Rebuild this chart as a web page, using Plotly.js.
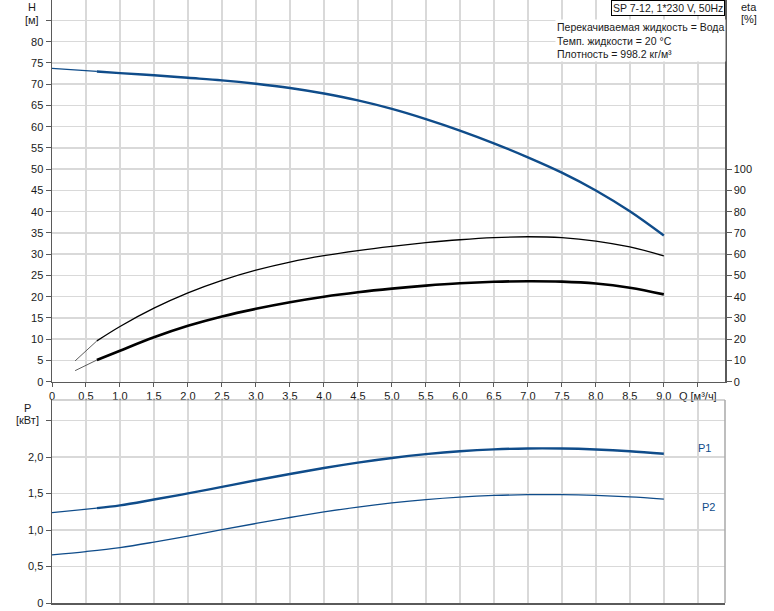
<!DOCTYPE html>
<html>
<head>
<meta charset="utf-8">
<script src="https://cdn.plot.ly/plotly-3.0.1.min.js"></script>
<style>html,body{margin:0;padding:0;background:#fff}#chart{width:774px;height:611px}</style>
</head>
<body>
<div id="chart"></div>
<script>
// ---- data ----
const qH      = [0, 0.66, 1, 1.5, 2, 2.5, 3, 3.5, 4, 4.5, 5, 5.5, 6, 6.5, 7, 7.5, 8, 8.5, 9];
const headH   = [73.7, 73.0, 72.6, 72.1, 71.5, 70.9, 70.1, 69.1, 67.8, 66.2, 64.2, 61.8, 59.1, 56.1, 52.8, 49.2, 45.0, 40.1, 34.4];
const qEta    = [0.34, 0.66, 1, 1.5, 2, 2.5, 3, 3.5, 4, 4.5, 5, 5.5, 6, 6.5, 7, 7.5, 8, 8.5, 9];
const etaUp   = [9.8, 19.2, 26.0, 34.6, 41.8, 47.7, 52.5, 56.3, 59.3, 61.7, 63.7, 65.4, 66.8, 67.8, 68.2, 67.8, 66.2, 63.4, 59.2];
const etaLow  = [5.2, 10.2, 14.6, 20.9, 26.3, 30.7, 34.3, 37.4, 40.0, 42.1, 43.8, 45.2, 46.3, 47.0, 47.3, 47.1, 46.2, 44.2, 41.1];
const qP1     = [0, 0.66, 1, 1.5, 2, 2.5, 3, 3.5, 4, 4.5, 5, 5.5, 6, 6.5, 7, 7.5, 8, 8.5, 9];
const p1      = [1.24, 1.30, 1.338, 1.418, 1.502, 1.592, 1.682, 1.768, 1.850, 1.924, 1.988, 2.040, 2.080, 2.106, 2.118, 2.117, 2.104, 2.080, 2.045];
const qP2     = [0, 0.5, 1, 1.5, 2, 2.5, 3, 3.5, 4, 4.5, 5, 5.5, 6, 6.5, 7, 7.5, 8, 8.5, 9];
const p2      = [0.66, 0.705, 0.76, 0.835, 0.918, 1.005, 1.09, 1.172, 1.248, 1.315, 1.372, 1.418, 1.452, 1.474, 1.485, 1.485, 1.474, 1.454, 1.425];
const START_THICK = 1; // index where operating range begins (Q = 0.66)

const xTickVals = [0,0.5,1,1.5,2,2.5,3,3.5,4,4.5,5,5.5,6,6.5,7,7.5,8,8.5,9,9.5];
const xTickText = ["0","0,5","1,0","1,5","2,0","2,5","3,0","3,5","4,0","4,5","5,0","5,5","6,0","6,5","7,0","7,5","8,0","8,5","9,0","Q [м³/ч]"];
const hTickVals = [0,5,10,15,20,25,30,35,40,45,50,55,60,65,70,75,80,85];
const hTickText = ["0","5","10","15","20","25","30","35","40","45","50","55","60","65","70","75","80",""];
const etaTickVals = [0,10,20,30,40,50,60,70,80,90,100];
const pTickVals = [0,0.5,1,1.5,2,2.5];
const pTickText = ["0","0,5","1,0","1,5","2,0",""];

const title1 = "SP 7-12, 1*230 V, 50Hz";
const infoLines = ["Перекачиваемая жидкость = Вода", "Темп. жидкости = 20 °C", "Плотность = 998.2 кг/м³"];

// ---- chart ----
const BLUE = "#0f4c8a";
const FONT = "Liberation Sans, Arial, sans-serif";
const TXT = "#1a1a1a";
const sp = {shape:"spline", smoothing:1};
const S = START_THICK;

const traces = [
  {x: qH.slice(0, S+1), y: headH.slice(0, S+1), xaxis:"x", yaxis:"y", mode:"lines", line:{color:BLUE, width:1.2}, hoverinfo:"skip"},
  {x: qH.slice(S), y: headH.slice(S), xaxis:"x", yaxis:"y", mode:"lines", line:Object.assign({color:BLUE, width:2.4}, sp), hoverinfo:"skip"},
  {x: qEta.slice(0, S+1), y: etaUp.slice(0, S+1), xaxis:"x", yaxis:"y2", mode:"lines", line:{color:"#333", width:0.8}, hoverinfo:"skip"},
  {x: qEta.slice(S), y: etaUp.slice(S), xaxis:"x", yaxis:"y2", mode:"lines", line:Object.assign({color:"#000", width:1.3}, sp), hoverinfo:"skip"},
  {x: qEta.slice(0, S+1), y: etaLow.slice(0, S+1), xaxis:"x", yaxis:"y2", mode:"lines", line:{color:"#333", width:0.8}, hoverinfo:"skip"},
  {x: qEta.slice(S), y: etaLow.slice(S), xaxis:"x", yaxis:"y2", mode:"lines", line:Object.assign({color:"#000", width:2.6}, sp), hoverinfo:"skip"},
  {x: qP1.slice(0, S+1), y: p1.slice(0, S+1), xaxis:"x2", yaxis:"y3", mode:"lines", line:{color:BLUE, width:1.2}, hoverinfo:"skip"},
  {x: qP1.slice(S), y: p1.slice(S), xaxis:"x2", yaxis:"y3", mode:"lines", line:Object.assign({color:BLUE, width:2.4}, sp), hoverinfo:"skip"},
  {x: qP2, y: p2, xaxis:"x2", yaxis:"y3", mode:"lines", line:Object.assign({color:BLUE, width:1.3}, sp), hoverinfo:"skip"}
];

const PH = 603; // plot height in px (top margin 0, bottom 8)
const py = px => (PH - px) / PH;           // pixel y -> paper y
const pxx = px => (px - 52) / (725 - 52);  // pixel x -> paper x

const GRID = "#d9d9d9";
const AXL = "#5a5a5a";
const tickfont = {family: FONT, size: 11, color: TXT};

const layout = {
  width: 774, height: 611,
  margin: {l: 52, r: 49, t: 0, b: 8, pad: 0},
  paper_bgcolor: "#fff", plot_bgcolor: "#fff",
  showlegend: false,
  font: {family: FONT, size: 11, color: TXT},
  xaxis: {domain:[0,1], anchor:"y", range:[0, 9.9], tickmode:"array", tickvals:xTickVals, ticktext:xTickText,
          showgrid:true, gridcolor:GRID, gridwidth:1.5, zeroline:false, showline:true, linecolor:AXL, linewidth:1.5,
          ticks:"outside", ticklen:4, tickcolor:AXL, tickfont:tickfont, fixedrange:true},
  yaxis: {domain:[py(381.7), 1], anchor:"x", range:[0, 381.7/4.25], tickmode:"array", tickvals:hTickVals, ticktext:hTickText,
          showgrid:true, gridcolor:GRID, gridwidth:1.5, zeroline:false, showline:true, linecolor:AXL, linewidth:1.5,
          ticks:"outside", ticklen:5, tickcolor:AXL, tickfont:tickfont, fixedrange:true},
  yaxis2: {overlaying:"y", side:"right", anchor:"x", range:[0, 381.7/2.125], tickmode:"array", tickvals:etaTickVals,
          showgrid:false, zeroline:false, showline:true, linecolor:AXL, linewidth:1.5,
          ticks:"outside", ticklen:5, tickcolor:AXL, tickfont:tickfont, fixedrange:true},
  xaxis2: {domain:[0,1], anchor:"y3", matches:"x", range:[0, 9.9], tickmode:"array", tickvals:xTickVals, showticklabels:false,
          showgrid:true, gridcolor:GRID, gridwidth:1.5, zeroline:false, showline:true, linecolor:AXL, linewidth:1.5,
          ticks:"", fixedrange:true},
  yaxis3: {domain:[0, py(400)], anchor:"x2", range:[0, 202.3/72.7], tickmode:"array", tickvals:pTickVals, ticktext:pTickText,
          showgrid:true, gridcolor:GRID, gridwidth:1.5, zeroline:false, showline:true, linecolor:AXL, linewidth:1.5,
          ticks:"outside", ticklen:5, tickcolor:AXL, tickfont:tickfont, fixedrange:true},
  shapes: [
    {type:"line", xref:"paper", yref:"paper", x0:0, x1:1, y0:py(400), y1:py(400), line:{color:"#a8a8a8", width:1.2}},
    {type:"line", xref:"paper", yref:"paper", x0:1, x1:1, y0:0, y1:py(400), line:{color:"#a8a8a8", width:1.5}}
  ],
  annotations: [
    {xref:"paper", yref:"paper", x:1, y:1, xanchor:"right", yanchor:"top", text:title1, showarrow:false,
     font:{family:FONT, size:10.5, color:TXT}, bgcolor:"#fff", bordercolor:"#000", borderwidth:1, borderpad:1},
    {xref:"paper", yref:"paper", x:pxx(555), y:py(19), xanchor:"left", yanchor:"top", align:"left",
     text:infoLines.join("<br>"), showarrow:false, font:{family:FONT, size:10.5, color:TXT}, bgcolor:"#fff", borderpad:1},
    {xref:"paper", yref:"paper", x:pxx(32), y:py(7), xanchor:"center", yanchor:"middle", text:"H", showarrow:false, font:{family:FONT, size:11, color:TXT}},
    {xref:"paper", yref:"paper", x:pxx(32), y:py(19.5), xanchor:"center", yanchor:"middle", text:"[м]", showarrow:false, font:{family:FONT, size:11, color:TXT}},
    {xref:"paper", yref:"paper", x:pxx(749), y:py(7), xanchor:"center", yanchor:"middle", text:"eta", showarrow:false, font:{family:FONT, size:11, color:TXT}},
    {xref:"paper", yref:"paper", x:pxx(749), y:py(19), xanchor:"center", yanchor:"middle", text:"[%]", showarrow:false, font:{family:FONT, size:11, color:TXT}},
    {xref:"paper", yref:"paper", x:pxx(27), y:py(408), xanchor:"center", yanchor:"middle", text:"P", showarrow:false, font:{family:FONT, size:11, color:TXT}},
    {xref:"paper", yref:"paper", x:pxx(27), y:py(420), xanchor:"center", yanchor:"middle", text:"[кВт]", showarrow:false, font:{family:FONT, size:11, color:TXT}},
    {xref:"x2", yref:"y3", x:9.6, y:2.13, xanchor:"center", yanchor:"middle", text:"P1", showarrow:false, font:{family:FONT, size:11, color:BLUE}},
    {xref:"x2", yref:"y3", x:9.65, y:1.32, xanchor:"center", yanchor:"middle", text:"P2", showarrow:false, font:{family:FONT, size:11, color:BLUE}}
  ]
};

Plotly.newPlot("chart", traces, layout, {displayModeBar:false, staticPlot:true});
</script>
</body>
</html>
